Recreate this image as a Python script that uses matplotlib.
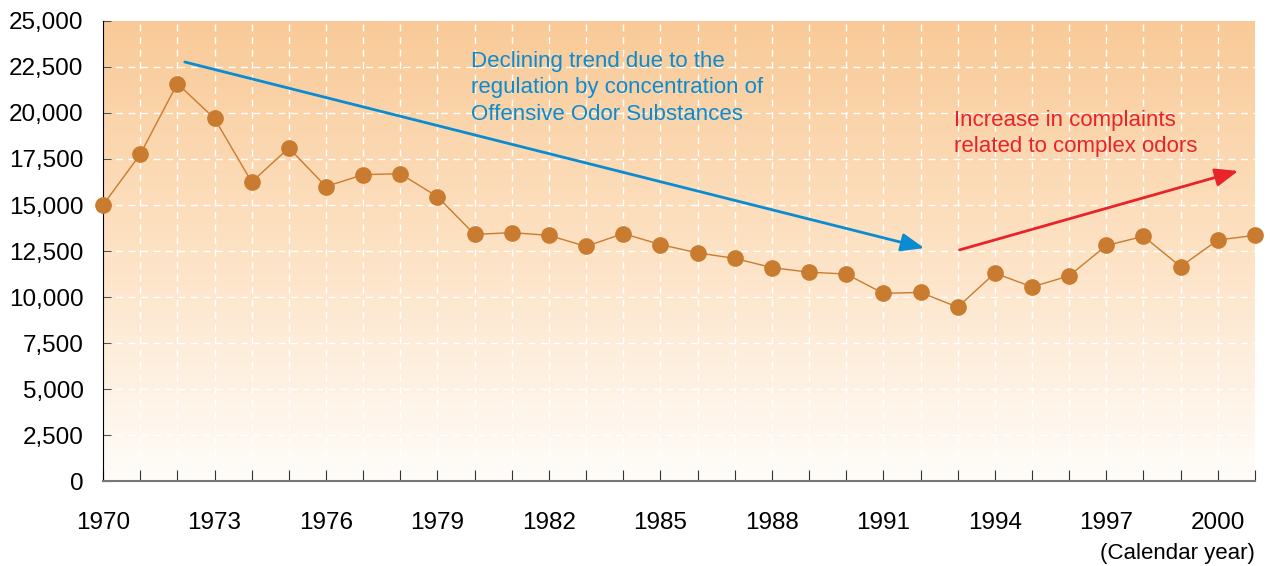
import numpy as np
import matplotlib
matplotlib.use("Agg")
import matplotlib.pyplot as plt
from matplotlib.colors import LinearSegmentedColormap

plt.rcParams['font.family'] = ['Liberation Sans', 'DejaVu Sans']

# complaints per calendar year
years = list(range(1970, 2002))
complaints = [15000, 17750, 21600, 19700, 16250, 18100, 16000, 16650, 16700, 15450,
              13400, 13500, 13350, 12750, 13450, 12850, 12400, 12100, 11600, 11350,
              11250, 10200, 10250, 9450, 11300, 10550, 11150, 12800, 13300, 11650,
              13100, 13350]
year_ticks = list(range(1970, 2001, 3))
y_ticks = list(range(0, 25001, 2500))

fig = plt.figure(figsize=(12.72, 5.66), dpi=100)
ax = fig.add_axes([0.081, 0.150, 0.9056, 0.813])

# background gradient, light cream at bottom to peach at top
cmap = LinearSegmentedColormap.from_list('peach', ['#fffdfa', '#fde2c4', '#f9ca97'])
grad = np.linspace(0, 1, 256).reshape(-1, 1)
ax.imshow(grad, aspect='auto', cmap=cmap, origin='lower', extent=[0, 1, 0, 1],
          transform=ax.transAxes, zorder=0)
ax.set_facecolor('none')

ax.set_xlim(1970, 2001)
ax.set_ylim(0, 25000)

for y in y_ticks[1:-1]:
    ax.axhline(y, color='white', lw=1, ls=(0, (5, 4)), zorder=1)
for x in years[1:-1]:
    ax.axvline(x, color='white', lw=1, ls=(0, (5, 4)), zorder=1)

ax.plot(years, complaints, color='#c97b2f', lw=1, marker='o', ms=11,
        markerfacecolor='#c97b2f', markeredgecolor='#c97b2f', zorder=3, clip_on=False)

# trend arrows
ax.annotate('', xy=(1992.1, 12660), xytext=(1972.2, 22770),
            arrowprops=dict(arrowstyle='-|>,head_length=1.4,head_width=0.55',
                            color='#0a8bd2', lw=2, shrinkA=0, shrinkB=0), zorder=4)
ax.annotate('', xy=(2000.55, 16850), xytext=(1993.05, 12560),
            arrowprops=dict(arrowstyle='-|>,head_length=1.4,head_width=0.55',
                            color='#e8232a', lw=2, shrinkA=0, shrinkB=0), zorder=4)

ax.text(1979.9, 23350, 'Declining trend due to the\nregulation by concentration of\nOffensive Odor Substances',
        color='#0a8bd2', fontsize=16, va='top', ha='left', linespacing=1.32, zorder=5)
ax.text(1992.9, 20150, 'Increase in complaints\nrelated to complex odors',
        color='#e8232a', fontsize=16, va='top', ha='left', linespacing=1.32, zorder=5)

ax.set_xticks(years)
ax.set_xticklabels([str(y) if y in year_ticks else '' for y in years])
ax.set_yticks(y_ticks)
ax.set_yticklabels([f'{v:,}' for v in y_ticks])
ax.tick_params(axis='x', direction='in', length=8, color='#333333', labelsize=17.5, pad=22)
ax.tick_params(axis='y', direction='in', length=6, color='#555555', labelsize=17.5, pad=14)

for s in ['top', 'right']:
    ax.spines[s].set_visible(False)
ax.spines['left'].set_color('black')
ax.spines['bottom'].set_color('#777777')
ax.spines['bottom'].set_linewidth(1.5)

fig.text(0.9866, 0.003, '(Calendar year)', ha='right', va='bottom', fontsize=16)

fig.savefig('out.png', dpi=100)
